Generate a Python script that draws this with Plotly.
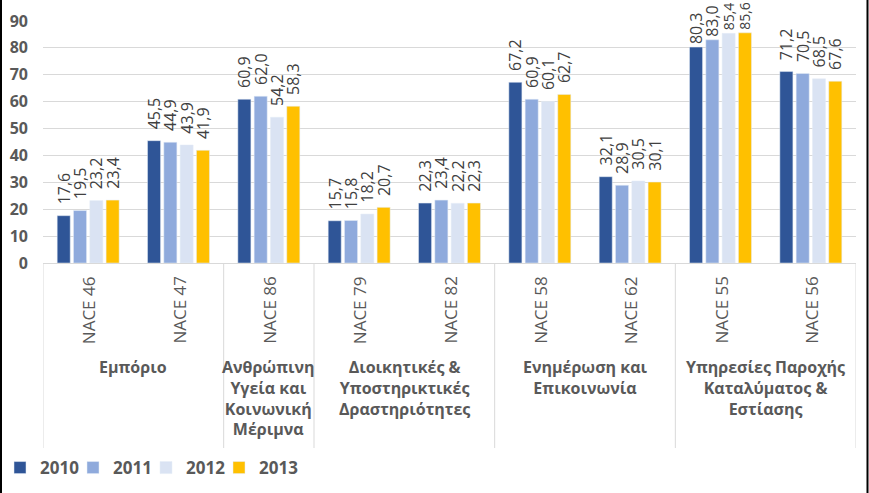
import plotly.graph_objects as go

codes = ["NACE 46", "NACE 47", "NACE 86", "NACE 79", "NACE 82", "NACE 58", "NACE 62", "NACE 55", "NACE 56"]
years = ["2010", "2011", "2012", "2013"]
v2010 = [17.6, 45.5, 60.9, 15.7, 22.3, 67.2, 32.1, 80.3, 71.2]
v2011 = [19.5, 44.9, 62.0, 15.8, 23.4, 60.9, 28.9, 83.0, 70.5]
v2012 = [23.2, 43.9, 54.2, 18.2, 22.2, 60.1, 30.5, 85.4, 68.5]
v2013 = [23.4, 41.9, 58.3, 20.7, 22.3, 62.7, 30.1, 85.6, 67.6]
series = [v2010, v2011, v2012, v2013]
colors = ["#2F5597", "#8FAADC", "#DAE3F3", "#FFC000"]

groups = ["Εμπόριο", "Ανθρώπινη<br>Υγεία και<br>Κοινωνική<br>Μέριμνα",
          "Διοικητικές &<br>Υποστηρικτικές<br>Δραστηριότητες",
          "Ενημέρωση και<br>Επικοινωνία",
          "Υπηρεσίες Παροχής<br>Καταλύματος &<br>Εστίασης"]
group_span = [(0, 1), (2, 2), (3, 4), (5, 6), (7, 8)]

FONT = "Open Sans"
GRAY = "#595959"

x = list(range(len(codes)))
fig = go.Figure()
for k, (name, vals, col) in enumerate(zip(years, series, colors)):
    # labels near the top of the chart get no extra gap (Excel pushes them down)
    txt = [("\u00a0\u00a0" if v < 80 else "") + f"{v:.1f}".replace(".", ",") for v in vals]
    sizes = [16 if v < 85 else 14 for v in vals]
    fig.add_trace(go.Bar(
        x=x, y=vals, name=name, marker_color=col,
        text=txt, textposition="outside", textangle=-90,
        constraintext="none", cliponaxis=False,
        textfont=dict(family=FONT, size=sizes, color="#404040"),
        legendwidth=28 if k < len(years) - 1 else 50,
        hoverinfo="skip",
    ))

annotations = []
for i, c in enumerate(codes):
    annotations.append(dict(
        x=i, xref="x", y=0, yref="paper", yanchor="top", xanchor="center",
        yshift=-11, text=c, textangle=-90, showarrow=False,
        font=dict(family=FONT, size=17, color=GRAY)))
for g, (a, b) in zip(groups, group_span):
    annotations.append(dict(
        x=(a + b) / 2, xref="x", y=0, yref="paper", yanchor="top", xanchor="center",
        yshift=-91, text=g, showarrow=False, align="center",
        font=dict(family=FONT, size=16, color=GRAY, weight="bold")))

shapes = []
plot_h = 242
for sx in [-0.5, 1.5, 2.5, 4.5, 6.5, 8.5]:
    shapes.append(dict(type="line", xref="x", yref="paper", x0=sx, x1=sx,
                       y0=0, y1=-(448 - 263) / plot_h, line=dict(color="#D9D9D9", width=1)))
for px in [1, 867.5]:
    shapes.append(dict(type="line", xref="paper", yref="paper",
                       x0=(px - 43) / 813, x1=(px - 43) / 813,
                       y0=-230 / plot_h, y1=1 + 21 / plot_h,
                       line=dict(color="#000000", width=2)))

fig.update_layout(
    width=869, height=493,
    margin=dict(l=43, r=13, t=21, b=230, autoexpand=False),
    paper_bgcolor="white", plot_bgcolor="white",
    barmode="group", bargap=0.278, bargroupgap=0.2,
    separators=",.",
    font=dict(family=FONT, color=GRAY),
    xaxis=dict(range=[-0.5, 8.5], showticklabels=False, showgrid=False, automargin=False,
               showline=True, linecolor="#D9D9D9", linewidth=1, zeroline=False, fixedrange=True),
    yaxis=dict(range=[0, 90], dtick=10, showgrid=True, gridcolor="#D9D9D9", gridwidth=1,
               zeroline=False, showline=False, ticks="", ticklabelstandoff=14, automargin=False,
               tickfont=dict(family=FONT, size=16, color=GRAY, weight="bold")),
    legend=dict(orientation="h", xref="container", yref="container",
                x=0.0, y=1 - 468 / 493, xanchor="left", yanchor="middle",
                font=dict(family=FONT, size=17, color=GRAY, weight="bold"),
                entrywidthmode="pixels", itemwidth=30,
                bgcolor="rgba(0,0,0,0)"),
    annotations=annotations, shapes=shapes,
)
fig.write_html("out.html", config={"displayModeBar": False},
               post_script="document.body.style.margin='0';")
